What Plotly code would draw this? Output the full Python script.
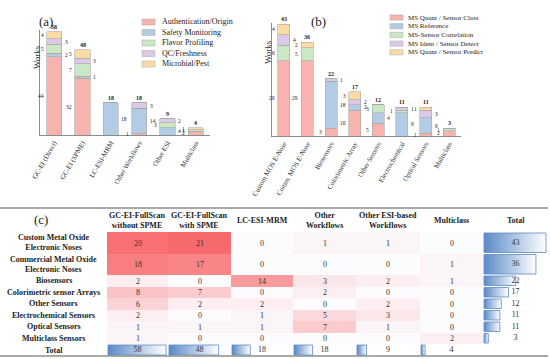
import plotly.graph_objects as go

W, H = 550, 359
FONT = "Liberation Serif"

# ---------------- Panel (a) data ----------------
a_categories = ["GC-EI (Direct)", "GC-EI (SPME)", "LC-ESI-MRM", "Other Workflows", "Other ESI", "Multiclass"]
a_series = ["Authentication/Origin", "Safety Monitoring", "Flavor Profiling", "QC/Freshness", "Microbial/Pest"]
a_auth = [44, 32, 0, 1, 0, 2]
a_safety = [2, 1, 18, 14, 4, 0]
a_flavor = [5, 7, 0, 0, 3, 1]
a_qc = [3, 3, 0, 3, 2, 0]
a_microbial = [4, 5, 0, 0, 0, 1]

# ---------------- Panel (b) data ----------------
b_categories = ["Custom MOS E-Nose", "Comm. MOS E-Nose", "Biosensors", "Colorimetric Array",
                "Other Sensors", "Electrochemical", "Optical Sensors", "Multiclass"]
b_series = ["MS Quant / Sensor Class", "MS Reference", "MS-Sensor Correlation",
            "MS Ident / Sensor Detect", "MS Quant / Sensor Predict"]
b_quant_class = [29, 29, 3, 10, 5, 0, 1, 2]
b_reference = [0, 0, 18, 2, 4, 9, 6, 0]
b_correlation = [6, 5, 0, 0, 3, 1, 0, 1]
b_ident = [4, 0, 1, 2, 0, 1, 3, 0]
b_predict = [4, 2, 0, 3, 0, 0, 1, 0]

# ---------------- Panel (c) data ----------------
c_rows = ["Custom Metal Oxide<br>Electronic Noses", "Commercial Metal Oxide<br>Electronic Noses",
          "Biosensors", "Colorimetric sensor Arrays", "Other Sensors", "Electrochemical Sensors",
          "Optical Sensors", "Multiclass Sensors"]
c_cols = ["GC-EI-FullScan<br>without SPME", "GC-EI-FullScan<br>with SPME", "LC-ESI-MRM",
          "Other<br>Workflows", "Other ESI-based<br>Workflows", "Multiclass"]
c_gc_direct = [20, 18, 2, 8, 6, 2, 1, 1]
c_gc_spme = [21, 17, 0, 7, 2, 0, 1, 0]
c_lc_mrm = [0, 0, 14, 0, 2, 1, 1, 0]
c_other_wf = [1, 0, 3, 2, 0, 5, 7, 0]
c_other_esi = [1, 0, 2, 0, 2, 3, 1, 0]
c_multiclass = [0, 1, 1, 0, 0, 0, 0, 2]

colors = ["#F9B3AF", "#B3CBE5", "#C9E8C3", "#DCC9E7", "#FCDAA3"]
edge = "#A8A8A8"


def px(x):
    return x / W


def py(y):
    return 1 - y / H


fig = go.Figure()
annotations = []
shapes = []

# ---------------- stacked bars ----------------
panels = [
    ("x", "y", a_categories, a_series, [a_auth, a_safety, a_flavor, a_qc, a_microbial], 0.53),
    ("x2", "y2", b_categories, b_series, [b_quant_class, b_reference, b_correlation, b_ident, b_predict], 0.51),
]
for xa, ya, cats, names, series, bw in panels:
    idx = list(range(len(cats)))
    base = [0] * len(cats)
    for k, (name, vals) in enumerate(zip(names, series)):
        fig.add_trace(go.Bar(
            x=idx, y=vals, name=name, xaxis=xa, yaxis=ya, width=bw,
            marker=dict(color=colors[k], line=dict(color=edge, width=0.6)),
            showlegend=False, hoverinfo="skip"))
        for i, v in enumerate(vals):
            if v > 0:
                left = (k % 2 == 0)
                annotations.append(dict(
                    x=i - bw / 2 - 0.04 if left else i + bw / 2 + 0.04,
                    y=base[i] + v / 2, xref=xa, yref=ya, text=str(v), showarrow=False,
                    xanchor="right" if left else "left", yanchor="middle",
                    font=dict(family=FONT, size=5.5, color="#222")))
            base[i] += v
    for i, t in enumerate(base):
        annotations.append(dict(x=i, y=t, xref=xa, yref=ya, text="<b>%d</b>" % t, showarrow=False,
                                yanchor="bottom", yshift=0, font=dict(family=FONT, size=6, color="#222")))

axis_common = dict(showgrid=False, zeroline=False, showline=True, linecolor="#8C8C8C", linewidth=1,
                   ticks="", tickangle=-60, automargin=False,
                   tickfont=dict(family=FONT, size=7, color="#333"))
yaxis_common = dict(showgrid=False, zeroline=False, showline=True, linecolor="#8C8C8C", linewidth=1,
                    showticklabels=False, ticks="", automargin=False)

# ---------------- legends (drawn) ----------------
def legend(names, x0, x1, xt, y0, dy, hh, size):
    for k, n in enumerate(names):
        yc = y0 + k * dy
        shapes.append(dict(type="rect", xref="paper", yref="paper", x0=px(x0), x1=px(x1),
                           y0=py(yc - hh), y1=py(yc + hh), fillcolor=colors[k],
                           line=dict(color=edge, width=0.5)))
        annotations.append(dict(x=px(xt), y=py(yc), xref="paper", yref="paper", text=n, showarrow=False,
                                xanchor="left", yanchor="middle",
                                font=dict(family=FONT, size=size, color="#222")))


legend(a_series, 142, 155, 160, 22, 10.5, 3, 8)
legend(b_series, 390, 403, 406, 17.5, 8.7, 2.6, 7)

for t, x, y in [("(a)", 37, 12), ("(b)", 318, 12)]:
    annotations.append(dict(x=px(x), y=py(y), xref="paper", yref="paper", text=t, showarrow=False,
                            font=dict(family=FONT, size=13, color="#222")))
for x, y in [(30, 43), (268, 38)]:
    annotations.append(dict(x=px(x), y=py(y), xref="paper", yref="paper", text="Works", showarrow=False,
                            textangle=-90, font=dict(family=FONT, size=9, color="#333")))

# ---------------- table (c) ----------------
col_edges = [0, 107, 168, 231, 293, 356, 420, 483, 548]
row_edges = [208, 232, 253.5, 275, 286.5, 298, 309.5, 321, 332.5, 344, 356]
cols_data = [c_gc_direct, c_gc_spme, c_lc_mrm, c_other_wf, c_other_esi, c_multiclass]
nrow = len(c_rows)
z = [[cols_data[j][i] for j in range(len(cols_data))] for i in range(nrow)]
fig.add_trace(go.Heatmap(
    z=z, x=col_edges[1:8], y=row_edges[1:2 + nrow], xaxis="x3", yaxis="y3",
    colorscale=[[0, "#FCFCFF"], [1, "#F8696B"]], zmin=0, zmax=max(max(r) for r in z),
    showscale=False, texttemplate="%{z}", textfont=dict(family=FONT, size=8, color="#333"),
    hoverinfo="skip"))

row_totals = [sum(r) for r in z]
col_totals = [sum(c) for c in cols_data]


def databar(xl, xr, yt, yb, v, vmax):
    x0 = xl + 1
    x1 = x0 + v / vmax * (xr - xl - 3)
    fig.add_trace(go.Scatter(
        x=[x0, x1, x1, x0, x0], y=[yt + 1, yt + 1, yb - 1, yb - 1, yt + 1], xaxis="x3", yaxis="y3",
        mode="lines", fill="toself", line=dict(color="#5A8AC6", width=0.8),
        fillgradient=dict(type="horizontal", colorscale=[[0, "#5A8AC6"], [1, "#FFFFFF"]]),
        showlegend=False, hoverinfo="skip"))


for i, v in enumerate(row_totals):
    databar(col_edges[7], col_edges[8], row_edges[1 + i], row_edges[2 + i], v, max(row_totals))
for j, v in enumerate(col_totals):
    databar(col_edges[1 + j], col_edges[2 + j], row_edges[-2], row_edges[-1], v, max(col_totals))

tx, ty, tt = [], [], []
for i, v in enumerate(row_totals):
    tx.append((col_edges[7] + col_edges[8]) / 2)
    ty.append((row_edges[1 + i] + row_edges[2 + i]) / 2)
    tt.append(str(v))
for j, v in enumerate(col_totals):
    tx.append((col_edges[1 + j] + col_edges[2 + j]) / 2)
    ty.append((row_edges[-2] + row_edges[-1]) / 2)
    tt.append(str(v))
fig.add_trace(go.Scatter(x=tx, y=ty, text=tt, mode="text", xaxis="x3", yaxis="y3",
                         textfont=dict(family=FONT, size=8, color="#333"), showlegend=False,
                         hoverinfo="skip"))

for j, c in enumerate(c_cols + ["Total"]):
    annotations.append(dict(x=(col_edges[1 + j] + col_edges[2 + j]) / 2, y=(row_edges[0] + row_edges[1]) / 2,
                            xref="x3", yref="y3", text="<b>%s</b>" % c, showarrow=False,
                            font=dict(family=FONT, size=8, color="#222")))
for i, r in enumerate(c_rows + ["Total"]):
    annotations.append(dict(x=(col_edges[0] + col_edges[1]) / 2, y=(row_edges[1 + i] + row_edges[2 + i]) / 2,
                            xref="x3", yref="y3", text="<b>%s</b>" % r, showarrow=False,
                            font=dict(family=FONT, size=8, color="#222")))
annotations.append(dict(x=41, y=219, xref="x3", yref="y3", text="(c)", showarrow=False,
                        font=dict(family=FONT, size=13, color="#222")))
for yl, wd in [(row_edges[0], 1.5), (row_edges[-1], 1.5)]:
    shapes.append(dict(type="line", xref="x3", yref="y3", x0=0, x1=col_edges[-1], y0=yl, y1=yl,
                       line=dict(color="#8C8C8C", width=wd)))

fig.update_layout(
    width=W, height=H, autosize=False, margin=dict(l=0, r=0, t=0, b=0, pad=0, autoexpand=False),
    paper_bgcolor="white", plot_bgcolor="rgba(0,0,0,0)", barmode="stack", showlegend=False,
    xaxis=dict(domain=[px(40), px(210)], range=[-0.5, 5.5], tickvals=list(range(len(a_categories))),
               ticktext=a_categories, anchor="y", **axis_common),
    yaxis=dict(domain=[py(135), py(30)], range=[0, 59], anchor="x", **yaxis_common),
    xaxis2=dict(domain=[px(272), px(461)], range=[-0.5, 7.5], tickvals=list(range(len(b_categories))),
                ticktext=b_categories, anchor="y2", **axis_common),
    yaxis2=dict(domain=[py(136), py(23)], range=[0, 43.5], anchor="x2", **yaxis_common),
    xaxis3=dict(domain=[0, 1], range=[0, W], visible=False, anchor="y3", automargin=False),
    yaxis3=dict(domain=[0, py(205)], range=[H, 205], visible=False, anchor="x3", automargin=False),
    annotations=annotations, shapes=shapes,
)

fig.write_html("out.html", config={"displayModeBar": False},
               post_script="document.body.style.margin='0px';document.body.style.overflow='hidden';")
